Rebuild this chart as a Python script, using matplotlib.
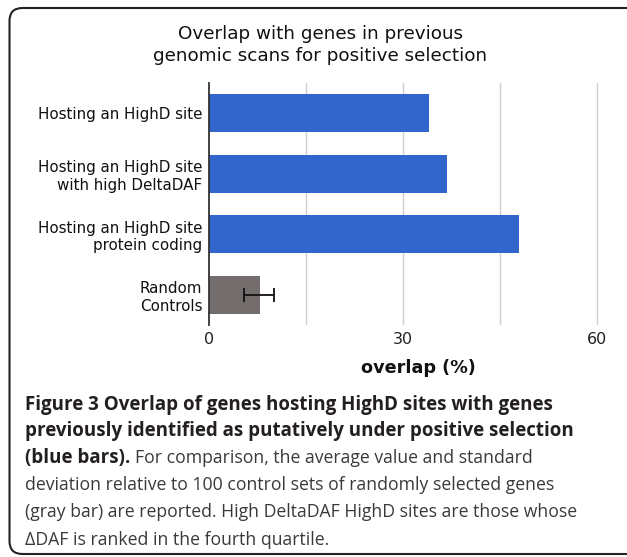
import matplotlib.pyplot as plt
from matplotlib.patches import FancyBboxPatch

# datos
categorias = ["Hosting an HighD site",
              "Hosting an HighD site\nwith high DeltaDAF",
              "Hosting an HighD site\nprotein coding",
              "Random\nControls"]
overlap = [33.9, 36.8, 47.9, 7.8]
error = [0, 0, 0, 2.35]
colores = ["#3366cc", "#3366cc", "#3366cc", "#736e6d"]
ticks = [0, 30, 60]
grid_x = [15, 30, 45, 60]

plt.rcParams['font.family'] = ['DejaVu Sans']

fig = plt.figure(figsize=(6.27, 5.57), dpi=100)

# eje de fondo en pixeles para el marco redondeado (se sale por la derecha)
fondo = fig.add_axes([0, 0, 1, 1])
fondo.set_xlim(0, 627)
fondo.set_ylim(557, 0)
fondo.axis("off")
marco = FancyBboxPatch((9.5, 8), 700, 546,
                       boxstyle="round,pad=0,rounding_size=13",
                       fill=False, edgecolor="#222222", linewidth=1.5)
fondo.add_patch(marco)

ax = fig.add_axes([0.3338, 0.4165, 0.6210, 0.4345])
pos = list(range(len(categorias)))
ax.barh(pos, overlap, height=0.62, color=colores, zorder=2)
ax.errorbar(overlap[3] - 0.1, pos[3], xerr=error[3], fmt="none",
            ecolor="#111111", elinewidth=1.3, capsize=5, capthick=1.3, zorder=3)

for g in grid_x:
    ax.axvline(g, color="#d0d0d0", linewidth=1, zorder=1)

ax.set_xlim(0, 60.2)
ax.set_ylim(3.5, -0.5)
ax.set_xticks(ticks)
ax.set_xticklabels([str(t) for t in ticks])
ax.set_yticks(pos)
ax.set_yticklabels(categorias, fontsize=10.9, linespacing=1.22, color="#111111")
ax.tick_params(axis="x", length=0, labelsize=11.5, pad=5, labelcolor="#222222")
ax.tick_params(axis="y", length=0, pad=5)
for s in ["top", "right", "bottom"]:
    ax.spines[s].set_visible(False)
ax.spines["left"].set_color("#333333")
ax.spines["left"].set_linewidth(1.3)
ax.set_facecolor("none")

fig.text(0.511, 1 - 45 / 557, "Overlap with genes in previous\ngenomic scans for positive selection",
         ha="center", va="center", fontsize=13.2, linespacing=1.22, color="#111111")
fig.text(0.668, 1 - 368 / 557, "overlap (%)", ha="center", va="center",
         fontsize=12.7, fontweight="bold", color="#111111")

# pie de figura
cap_font = "Open Sans"
x0 = 25 / 627
lineas_y = [405, 431, 458, 485, 512, 540]
negrita = ["Figure 3 Overlap of genes hosting HighD sites with genes",
           "previously identified as putatively under positive selection",
           "(blue bars)."]
normal = ["For comparison, the average value and standard",
          "deviation relative to 100 control sets of randomly selected genes",
          "(gray bar) are reported. High DeltaDAF HighD sites are those whose",
          "\u0394DAF is ranked in the fourth quartile."]

for i, t in enumerate(negrita):
    fig.text(x0, 1 - lineas_y[i] / 557, t, ha="left", va="center",
             family=cap_font, fontsize=13.5, fontweight="bold", color="#231f20")

renderer = fig.canvas.get_renderer()
ultima = fig.texts[-1]
bb = ultima.get_window_extent(renderer=renderer)
x_sig = (bb.x1 + 5) / fig.bbox.width
fig.text(x_sig, 1 - lineas_y[2] / 557, normal[0], ha="left", va="center",
         family=cap_font, fontsize=12.7, color="#3a3a3a")
for j, t in enumerate(normal[1:]):
    fig.text(x0, 1 - lineas_y[3 + j] / 557, t, ha="left", va="center",
             family=cap_font, fontsize=12.7, color="#3a3a3a")

fig.savefig("out.png", dpi=100)
